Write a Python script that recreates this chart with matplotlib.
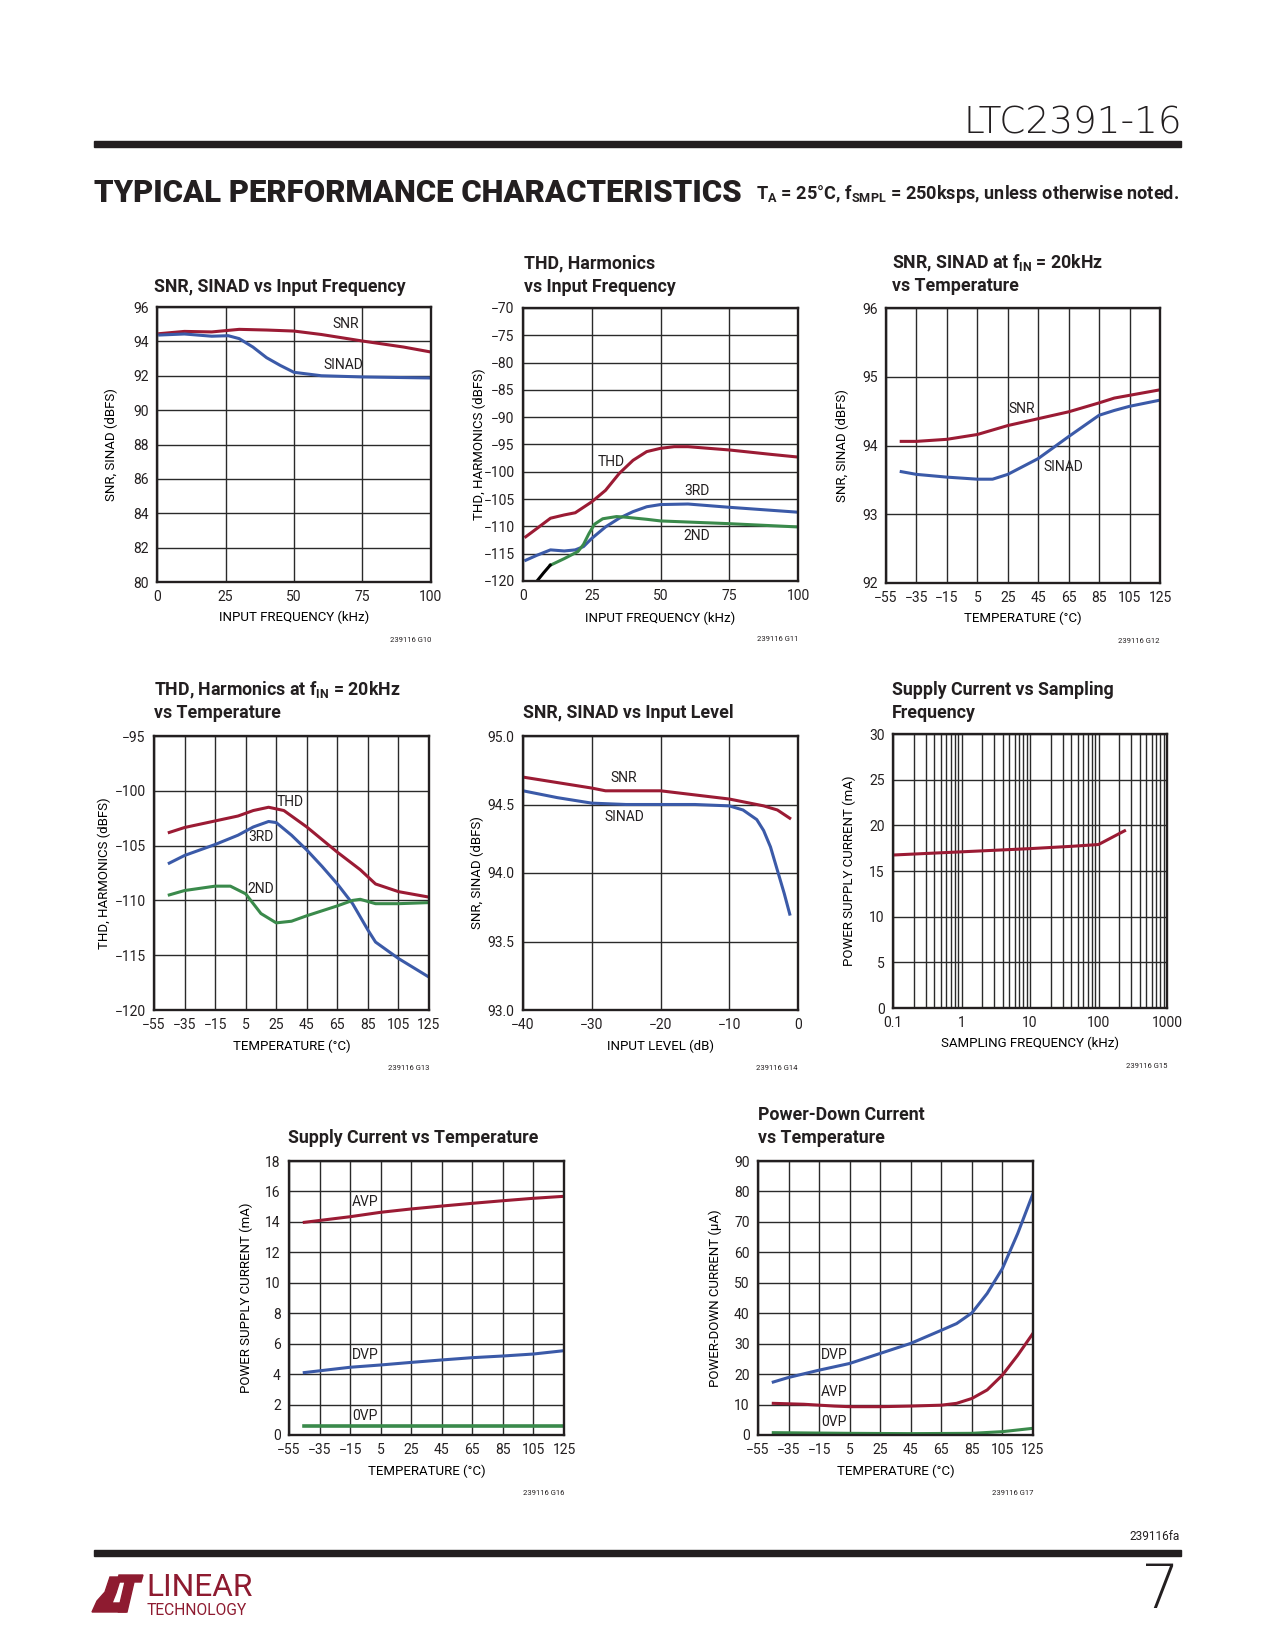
import numpy as np
import matplotlib
matplotlib.use('Agg')
import matplotlib.pyplot as plt
from matplotlib import font_manager
from matplotlib.patches import Polygon, Rectangle
from matplotlib.ticker import LogLocator, NullFormatter

# --- data ---
# G10: SNR, SINAD vs input frequency
snr_freq_x = [1, 10, 20, 30, 40, 50, 60, 75, 90, 100]
snr_freq_y = [94.45, 94.58, 94.55, 94.7, 94.66, 94.6, 94.4, 94.02, 93.67, 93.38]
sinad_freq_x = [1, 10, 20, 26, 30, 35, 40, 45, 50, 60, 75, 100]
sinad_freq_y = [94.37, 94.43, 94.3, 94.33, 94.16, 93.67, 93.05, 92.6, 92.2, 92.0, 91.93, 91.87]

# G11: THD, harmonics vs input frequency
thd_freq_x = [1, 5, 10, 15, 19, 25, 30, 35, 40, 45, 50, 55, 60, 75, 90, 100]
thd_freq_y = [-111.9, -110.4, -108.5, -107.9, -107.5, -105.5, -103.4, -100.3, -97.9,
              -96.3, -95.7, -95.4, -95.4, -96.0, -96.8, -97.3]
h3_freq_x = [1, 5, 10, 15, 19, 22, 25, 30, 35, 40, 45, 50, 60, 75, 100]
h3_freq_y = [-116.2, -115.3, -114.3, -114.5, -114.3, -113.7, -112.2, -110.1, -108.5,
             -107.3, -106.4, -106.0, -105.9, -106.5, -107.4]
h2_freq_x = [10, 15, 20, 22, 24, 26, 29, 34, 37, 45, 50, 75, 100]
h2_freq_y = [-117.1, -115.9, -114.6, -113.3, -111.3, -109.6, -108.6, -108.2, -108.3,
             -108.7, -109.0, -109.5, -110.1]
h2_low_x = [5.1, 7.5, 9.9]
h2_low_y = [-120.0, -118.5, -117.1]

# G12: SNR, SINAD vs temperature
snr_temp_x = [-45, -35, -15, 5, 25, 45, 65, 85, 95, 105, 125]
snr_temp_y = [94.06, 94.06, 94.09, 94.16, 94.29, 94.39, 94.49, 94.62, 94.69, 94.73, 94.81]
sinad_temp_x = [-45, -35, -15, 5, 15, 25, 45, 65, 85, 95, 105, 125]
sinad_temp_y = [93.62, 93.58, 93.54, 93.51, 93.51, 93.58, 93.81, 94.13, 94.44, 94.51, 94.57, 94.66]

# G13: THD, harmonics vs temperature
thd_temp_x = [-45, -35, -15, 0, 10, 20, 30, 45, 65, 80, 90, 105, 125]
thd_temp_y = [-103.8, -103.35, -102.75, -102.3, -101.8, -101.5, -101.8, -103.3, -105.6,
              -107.2, -108.5, -109.2, -109.7]
h3_temp_x = [-45, -35, -15, 0, 10, 20, 25, 35, 45, 55, 65, 75, 85, 90, 105, 125]
h3_temp_y = [-106.6, -105.9, -104.9, -104.05, -103.3, -102.8, -102.9, -104.05, -105.4,
             -106.9, -108.5, -110.3, -112.7, -113.8, -115.3, -117.0]
h2_temp_x = [-45, -35, -15, -5, 5, 15, 25, 35, 45, 65, 75, 80, 90, 105, 125]
h2_temp_y = [-109.5, -109.1, -108.7, -108.7, -109.4, -111.2, -112.05, -111.9, -111.4,
             -110.5, -110.0, -109.9, -110.3, -110.3, -110.2]

# G14: SNR, SINAD vs input level
snr_lvl_x = [-40, -35, -30, -28, -25, -20, -15, -10, -5, -3, -1.2]
snr_lvl_y = [94.70, 94.66, 94.62, 94.60, 94.60, 94.60, 94.57, 94.54, 94.49, 94.46, 94.40]
sinad_lvl_x = [-40, -35, -30, -25, -20, -15, -10, -8, -6, -5, -4, -3, -2, -1.2]
sinad_lvl_y = [94.60, 94.55, 94.51, 94.50, 94.50, 94.50, 94.49, 94.46, 94.39, 94.31,
               94.19, 94.02, 93.85, 93.70]

# G15: supply current vs sampling frequency
fs_khz = [0.1, 1, 10, 40, 100, 240]
isupply_fs = [16.75, 17.1, 17.45, 17.7, 17.9, 19.4]

# G16: supply current vs temperature
sup_temp = [-45, -15, 5, 25, 45, 65, 85, 105, 125]
avp_sup = [13.97, 14.34, 14.63, 14.85, 15.04, 15.22, 15.39, 15.55, 15.68]
dvp_sup = [4.1, 4.45, 4.6, 4.77, 4.93, 5.08, 5.19, 5.32, 5.54]
ovp_sup = [0.6, 0.6, 0.6, 0.6, 0.6, 0.6, 0.6, 0.6, 0.6]

# G17: power-down current vs temperature
pd_dvp_x = [-45, -35, -15, 5, 25, 45, 65, 75, 85, 95, 105, 115, 125]
pd_dvp_y = [17.4, 18.9, 21.3, 23.5, 26.8, 30.1, 34.4, 36.6, 40.1, 46.5, 54.7, 66.2, 79.3]
pd_avp_x = [-45, -25, -5, 5, 25, 45, 65, 75, 85, 95, 105, 115, 125]
pd_avp_y = [10.4, 10.1, 9.5, 9.3, 9.3, 9.5, 9.8, 10.4, 12.0, 14.8, 19.7, 26.2, 33.4]
pd_ovp_x = [-45, 5, 45, 85, 105, 125]
pd_ovp_y = [0.77, 0.55, 0.45, 0.55, 1.1, 2.2]

temp_ticks = list(range(-55, 126, 20))

# --- fonts ---
avail = {f.name for f in font_manager.fontManager.ttflist}
NARROW = 'Liberation Sans Narrow' if 'Liberation Sans Narrow' in avail else 'Roboto'
plt.rcParams['font.family'] = [NARROW, 'DejaVu Sans']
plt.rcParams['mathtext.fontset'] = 'custom'
plt.rcParams['mathtext.rm'] = NARROW
plt.rcParams['mathtext.bf'] = NARROW + ':bold'
plt.rcParams['text.color'] = '#231f20'

RED = '#9b1b34'
BLUE = '#3b5aa8'
GREEN = '#3a8a4b'
INK = '#231f20'

W, H = 1275, 1650
fig = plt.figure(figsize=(12.75, 16.5), dpi=100)


def fx(x):
    return x / W


def fy(y):
    return 1 - y / H


def make_axes(x0, y0, x1, y1):
    return fig.add_axes([fx(x0), fy(y1), (x1 - x0) / W, (y1 - y0) / H])


def style(ax, x0, y0, x1, y1, xlabel, ylabel, xlab_y, ylab_x, code):
    ax.grid(True, which='both', color='#2a2a2a', lw=1.0)
    ax.set_axisbelow(True)
    ax.tick_params(which='both', length=0, labelsize=10, pad=6, colors=INK)
    for s in ax.spines.values():
        s.set_linewidth(1.7)
        s.set_color(INK)
    ax.set_xlabel(xlabel, fontsize=9.5)
    ax.set_ylabel(ylabel, fontsize=9.5)
    ax.xaxis.set_label_coords(0.5, (y1 - xlab_y) / (y1 - y0))
    ax.xaxis.label.set_verticalalignment('center')
    ax.yaxis.set_label_coords((ylab_x - x0) / (x1 - x0), 0.5)
    ax.yaxis.label.set_verticalalignment('center')
    fig.text(fx(x1), fy(y1 + 58), code, fontsize=5.5, ha='right', va='center')


def title(x, baselines, lines):
    for yb, s in zip(baselines, lines):
        fig.text(fx(x), fy(yb), s, fontsize=12.8, fontweight='bold', ha='left', va='baseline')


def lab(ax, x, y, s):
    ax.text(x, y, s, fontsize=10, ha='center', va='center')


# G10
b = (157, 307, 431, 582)
ax = make_axes(*b)
ax.plot(snr_freq_x, snr_freq_y, color=RED, lw=2.2)
ax.plot(sinad_freq_x, sinad_freq_y, color=BLUE, lw=2.2)
ax.set_xlim(0, 100)
ax.set_ylim(80, 96)
ax.set_xticks([0, 25, 50, 75, 100])
ax.set_yticks(range(80, 97, 2))
lab(ax, 68.7, 95.0, 'SNR')
lab(ax, 68.1, 92.64, 'SINAD')
style(ax, *b, 'INPUT FREQUENCY (kHz)', 'SNR, SINAD (dBFS)', 617, 111, '239116 G10')
title(154, [292], ['SNR, SINAD vs Input Frequency'])

# G11
b = (523, 308, 798, 581)
ax = make_axes(*b)
ax.plot(thd_freq_x, thd_freq_y, color=RED, lw=2.2)
ax.plot(h3_freq_x, h3_freq_y, color=BLUE, lw=2.2)
ax.plot(h2_freq_x, h2_freq_y, color=GREEN, lw=2.2)
ax.plot(h2_low_x, h2_low_y, color='black', lw=2.2)
ax.set_xlim(0, 100)
ax.set_ylim(-120, -70)
ax.set_xticks([0, 25, 50, 75, 100])
ax.set_yticks(range(-120, -69, 5))
lab(ax, 32.1, -98.2, 'THD')
lab(ax, 63.3, -103.5, '3RD')
lab(ax, 63.3, -111.8, '2ND')
style(ax, *b, 'INPUT FREQUENCY (kHz)', 'THD, HARMONICS (dBFS)', 618, 479, '239116 G11')
title(524, [268, 292], ['THD, Harmonics', 'vs Input Frequency'])

# G12
b = (886, 308, 1160, 583)
ax = make_axes(*b)
ax.plot(snr_temp_x, snr_temp_y, color=RED, lw=2.2)
ax.plot(sinad_temp_x, sinad_temp_y, color=BLUE, lw=2.2)
ax.set_xlim(-55, 125)
ax.set_ylim(92, 96)
ax.set_xticks(temp_ticks)
ax.set_yticks(range(92, 97))
lab(ax, 34.2, 94.53, 'SNR')
lab(ax, 61.6, 93.69, 'SINAD')
style(ax, *b, 'TEMPERATURE (°C)', 'SNR, SINAD (dBFS)', 618, 842, '239116 G12')
title(892, [268, 291], [r'SNR, SINAD at f$_\mathbf{IN}$ = 20kHz', 'vs Temperature'])

# G13
b = (154, 736, 429, 1010)
ax = make_axes(*b)
ax.plot(thd_temp_x, thd_temp_y, color=RED, lw=2.2)
ax.plot(h3_temp_x, h3_temp_y, color=BLUE, lw=2.2)
ax.plot(h2_temp_x, h2_temp_y, color=GREEN, lw=2.2)
ax.set_xlim(-55, 125)
ax.set_ylim(-120, -95)
ax.set_xticks(temp_ticks)
ax.set_yticks(range(-120, -94, 5))
lab(ax, 34.0, -101.0, 'THD')
lab(ax, 14.8, -104.2, '3RD')
lab(ax, 14.8, -109.0, '2ND')
style(ax, *b, 'TEMPERATURE (°C)', 'THD, HARMONICS (dBFS)', 1046, 104, '239116 G13')
title(154, [695, 718], [r'THD, Harmonics at f$_\mathbf{IN}$ = 20kHz', 'vs Temperature'])

# G14
b = (523, 736, 798, 1010)
ax = make_axes(*b)
ax.plot(snr_lvl_x, snr_lvl_y, color=RED, lw=2.2)
ax.plot(sinad_lvl_x, sinad_lvl_y, color=BLUE, lw=2.2)
ax.set_xlim(-40, 0)
ax.set_ylim(93, 95)
ax.set_xticks(range(-40, 1, 10))
ax.set_yticks([93.0, 93.5, 94.0, 94.5, 95.0])
ax.set_yticklabels(['93.0', '93.5', '94.0', '94.5', '95.0'])
lab(ax, -25.3, 94.69, 'SNR')
lab(ax, -25.3, 94.41, 'SINAD')
style(ax, *b, 'INPUT LEVEL (dB)', 'SNR, SINAD (dBFS)', 1046, 477, '239116 G14')
title(523, [718], ['SNR, SINAD vs Input Level'])

# G15
b = (893, 734, 1167, 1008)
ax = make_axes(*b)
ax.plot(fs_khz, isupply_fs, color=RED, lw=2.2)
ax.set_xscale('log')
ax.set_xlim(0.1, 1000)
ax.set_ylim(0, 30)
ax.set_xticks([0.1, 1, 10, 100, 1000])
ax.set_xticklabels(['0.1', '1', '10', '100', '1000'])
ax.xaxis.set_minor_locator(LogLocator(base=10, subs=np.arange(2, 10)))
ax.xaxis.set_minor_formatter(NullFormatter())
ax.set_yticks(range(0, 31, 5))
style(ax, *b, 'SAMPLING FREQUENCY (kHz)', 'POWER SUPPLY CURRENT (mA)', 1043, 849, '239116 G15')
title(892, [695, 718], ['Supply Current vs Sampling', 'Frequency'])

# G16
b = (289, 1161, 564, 1435)
ax = make_axes(*b)
ax.plot(sup_temp, avp_sup, color=RED, lw=2.2)
ax.plot(sup_temp, dvp_sup, color=BLUE, lw=2.2)
ax.plot(sup_temp, ovp_sup, color=GREEN, lw=2.6)
ax.set_xlim(-55, 125)
ax.set_ylim(0, 18)
ax.set_xticks(temp_ticks)
ax.set_yticks(range(0, 19, 2))
lab(ax, -5.4, 15.28, 'AVP')
lab(ax, -5.4, 5.26, 'DVP')
lab(ax, -5.4, 1.27, '0VP')
style(ax, *b, 'TEMPERATURE (°C)', 'POWER SUPPLY CURRENT (mA)', 1471, 246, '239116 G16')
title(288, [1143], ['Supply Current vs Temperature'])

# G17
b = (758, 1161, 1033, 1435)
ax = make_axes(*b)
ax.plot(pd_dvp_x, pd_dvp_y, color=BLUE, lw=2.2)
ax.plot(pd_avp_x, pd_avp_y, color=RED, lw=2.2)
ax.plot(pd_ovp_x, pd_ovp_y, color=GREEN, lw=2.2)
ax.set_xlim(-55, 125)
ax.set_ylim(0, 90)
ax.set_xticks(temp_ticks)
ax.set_yticks(range(0, 91, 10))
lab(ax, -5.0, 26.2, 'DVP')
lab(ax, -5.0, 14.0, 'AVP')
lab(ax, -5.0, 4.4, '0VP')
style(ax, *b, 'TEMPERATURE (°C)', 'POWER-DOWN CURRENT (µA)', 1471, 715, '239116 G17')
title(758, [1120, 1143], ['Power-Down Current', 'vs Temperature'])

# --- page header / footer ---
fig.patches.append(Rectangle((fx(94), fy(147)), (1181 - 94) / W, 6 / H,
                             transform=fig.transFigure, color=INK))
fig.patches.append(Rectangle((fx(94), fy(1556)), (1181 - 94) / W, 6 / H,
                             transform=fig.transFigure, color=INK))

renderer = fig.canvas.get_renderer()


def fit(t, width):
    bb = t.get_window_extent(renderer=renderer)
    t.set_fontsize(t.get_fontsize() * width / bb.width)


t = fig.text(fx(1182), fy(133), 'LTC2391-16', fontsize=25, ha='right', va='baseline',
             family=['DejaVu Sans'], fontweight='light')
fit(t, 219)
t = fig.text(fx(94), fy(202), 'TYPICAL PERFORMANCE CHARACTERISTICS', fontsize=25,
             fontweight='heavy', ha='left', va='baseline')
fit(t, 648)
t = fig.text(fx(1179), fy(199), r'T$_\mathbf{A}$ = 25°C, f$_\mathbf{SMPL}$ = 250ksps, unless otherwise noted.',
             fontsize=12.5, fontweight='bold', ha='right', va='baseline')
fit(t, 423)

fig.text(fx(1180), fy(1537), '239116fa', fontsize=8.5, ha='right', va='center')
t = fig.text(fx(1180), fy(1608), '7', fontsize=44, ha='right', va='baseline',
             family=['DejaVu Sans'], fontweight='light')

# logo
LOGO = '#8e1b30'
mark_l = [(92, 1612), (97, 1601), (105, 1592), (110, 1577), (121, 1577), (116, 1593),
          (112, 1603), (128, 1603), (126, 1612)]
mark_t = [(119, 1575), (143, 1575), (141, 1582), (134, 1582), (127, 1612), (118, 1612),
          (125, 1582), (117, 1582)]
for pts in (mark_l, mark_t):
    fig.patches.append(Polygon([(fx(x), fy(y)) for x, y in pts], closed=True,
                               transform=fig.transFigure, color=LOGO))
t = fig.text(fx(146), fy(1596), 'LINEAR', fontsize=18, color=LOGO, ha='left', va='baseline')
fit(t, 106)
t = fig.text(fx(147), fy(1615), 'TECHNOLOGY', fontsize=6.5, color=LOGO, ha='left', va='baseline')
fit(t, 100)

fig.savefig('out.png', dpi=100, facecolor='white')
